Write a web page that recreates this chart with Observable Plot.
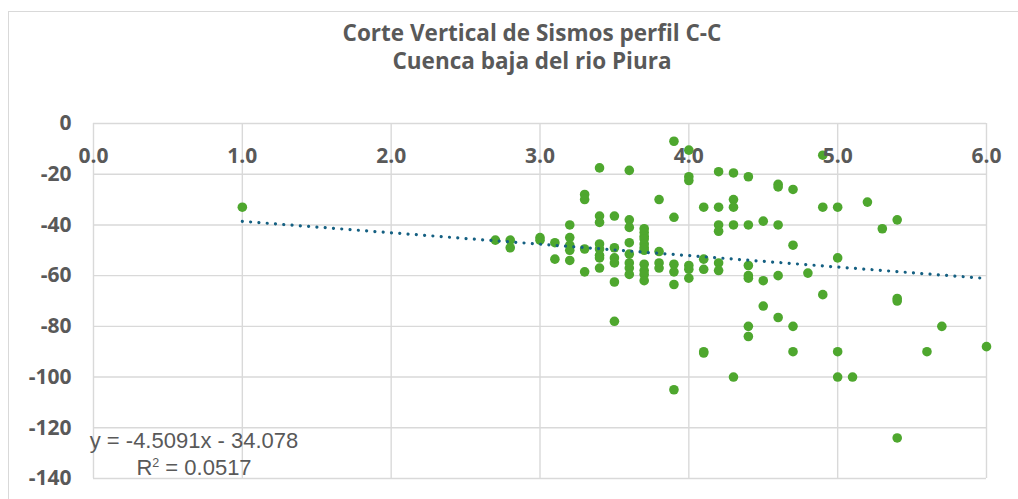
<!DOCTYPE html>
<html>
<head>
<meta charset="utf-8">
<script src="https://cdn.jsdelivr.net/npm/d3@7"></script>
<script src="https://cdn.jsdelivr.net/npm/@observablehq/plot@0.6"></script>
<style>
  html, body { margin: 0; padding: 0; background: #fff; }
  #wrap { position: relative; width: 1018px; height: 499px; overflow: hidden; font-family: "Open Sans", sans-serif; color: #595959; }
  #border { position: absolute; left: 8px; top: 11px; width: 1100px; height: 600px; border-left: 1.5px solid #d9d9d9; border-top: 1.5px solid #d9d9d9; }
  #title { position: absolute; left: 232px; width: 600px; top: 19px; text-align: center; font-weight: bold; font-size: 22.5px; line-height: 28px; }
  #eq { position: absolute; left: 44px; width: 300px; top: 427px; text-align: center; font-family: "Liberation Sans", Arial, sans-serif; font-size: 22px; line-height: 27px; }
  #eq sup { font-size: 12.5px; vertical-align: 8px; line-height: 0; }
  #chart { position: absolute; left: 0; top: 0; }
</style>
</head>
<body>
<div id="wrap">
  <div id="border"></div>
  <div id="chart"></div>
  <div id="title">Corte Vertical de Sismos perfil C-C<br>Cuenca baja del rio Piura</div>
  <div id="eq">y = -4.5091x - 34.078<br>R<sup>2</sup> = 0.0517</div>
</div>
<script>
// Magnitude (x) and depth (y) of each event, grouped by magnitude
const magnitudes = [
  1.0,
  2.7,
  2.8, 2.8,
  3.0, 3.0,
  3.1, 3.1,
  3.2, 3.2, 3.2, 3.2, 3.2,
  3.3, 3.3, 3.3, 3.3,
  3.4, 3.4, 3.4, 3.4, 3.4, 3.4, 3.4, 3.4,
  3.5, 3.5, 3.5, 3.5, 3.5, 3.5,
  3.6, 3.6, 3.6, 3.6, 3.6, 3.6, 3.6, 3.6,
  3.7, 3.7, 3.7, 3.7, 3.7, 3.7, 3.7, 3.7, 3.7, 3.7, 3.7,
  3.8, 3.8, 3.8, 3.8,
  3.9, 3.9, 3.9, 3.9, 3.9, 3.9,
  4.0, 4.0, 4.0, 4.0, 4.0, 4.0,
  4.1, 4.1, 4.1, 4.1, 4.1,
  4.2, 4.2, 4.2, 4.2, 4.2, 4.2,
  4.3, 4.3, 4.3, 4.3, 4.3,
  4.4, 4.4, 4.4, 4.4, 4.4, 4.4, 4.4,
  4.5, 4.5, 4.5,
  4.6, 4.6, 4.6, 4.6, 4.6,
  4.7, 4.7, 4.7, 4.7,
  4.8,
  4.9, 4.9, 4.9,
  5.0, 5.0, 5.0, 5.0,
  5.1,
  5.2,
  5.3,
  5.4, 5.4, 5.4, 5.4,
  5.6,
  5.7,
  6.0
];
const depths = [
  -33,
  -46,
  -46, -49,
  -45, -46,
  -47, -53.5,
  -40, -45, -48, -50, -54,
  -28, -30, -49.5, -58.5,
  -17.5, -36.5, -39, -47.5, -49.5, -52, -53, -57,
  -36.5, -49, -53, -55, -62.5, -78,
  -18.5, -38, -41, -47, -51.5, -55, -57, -59.5,
  -41.5, -43, -44.5, -45.5, -47.5, -49, -50, -55.5, -58, -59.5, -62,
  -30, -50.5, -55, -57,
  -7, -37, -55.5, -58.5, -63.5, -105,
  -10.5, -21, -22.5, -56, -57.5, -61,
  -33, -53.5, -57.5, -90, -90.5,
  -19, -33, -40, -42.5, -55, -58,
  -19.5, -30, -33, -40, -100,
  -21, -40, -56, -60, -61, -80, -84,
  -38.5, -62, -72,
  -24, -25, -40, -60, -76.5,
  -26, -48, -80, -90,
  -59,
  -12.5, -33, -67.5,
  -33, -53, -90, -100,
  -100,
  -31,
  -41.5,
  -38, -69, -70, -124,
  -90,
  -80,
  -88
];
// Linear trendline as shown in the chart: y = -4.5091x - 34.078
const trendSlope = -4.5091;
const trendIntercept = -34.078;
const trendX = [1.0, 6.0];

const xTicks = [0, 1, 2, 3, 4, 5, 6];
const yTicks = [0, -20, -40, -60, -80, -100, -120, -140];

const points = magnitudes.map((m, i) => ({x: m, y: depths[i]}));
const trend = trendX.map(x => ({x, y: trendSlope * x + trendIntercept}));

const chart = Plot.plot({
  width: 1018,
  height: 499,
  marginLeft: 93,
  marginRight: 32,
  marginTop: 123,
  marginBottom: 21,
  style: {fontFamily: "'Open Sans', sans-serif", color: "#595959", background: "transparent"},
  x: {domain: [0, 6]},
  y: {domain: [-140, 0]},
  marks: [
    Plot.gridX(xTicks, {stroke: "#d9d9d9", strokeOpacity: 1, strokeWidth: 1.4}),
    Plot.gridY(yTicks, {stroke: "#d9d9d9", strokeOpacity: 1, strokeWidth: 1.4}),
    Plot.dot(points, {x: "x", y: "y", r: 4.8, fill: "#4ea72e", stroke: "none"}),
    Plot.line(trend, {x: "x", y: "y", stroke: "#156082", strokeWidth: 3.2, strokeDasharray: "0.01,8.3", strokeLinecap: "round"}),
    Plot.axisY(yTicks, {anchor: "left", tickSize: 0, tickPadding: 22, fontSize: 21, fontWeight: "bold", fill: "#595959", label: null, tickFormat: d => String(d)}),
    Plot.axisX(xTicks, {anchor: "top", tickSize: 0, tickPadding: 3, dy: 42, fontSize: 21, fontWeight: "bold", fill: "#595959", tickFormat: d => d.toFixed(1), label: null})
  ]
});
document.getElementById("chart").appendChild(chart);
</script>
</body>
</html>
